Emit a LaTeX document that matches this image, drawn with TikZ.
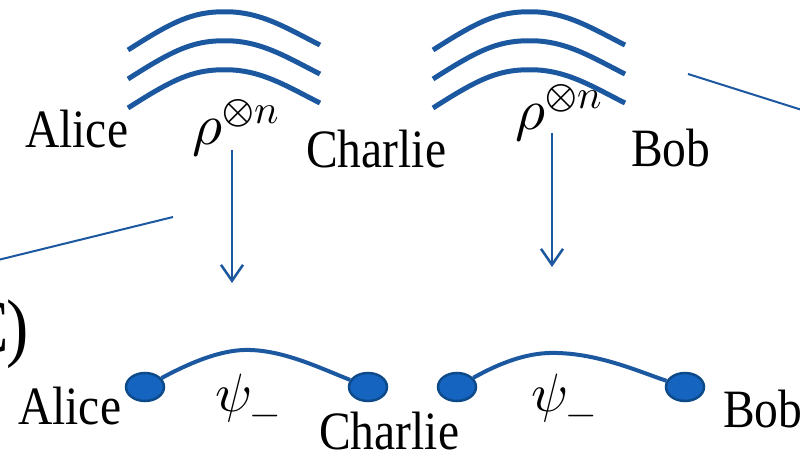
\documentclass[tikz,border=0pt]{standalone}
\usepackage{fontspec}
\usepackage{unicode-math}
\setmainfont[FakeStretch=0.88]{Liberation Serif}
\setmathfont{Latin Modern Math}
\usetikzlibrary{arrows.meta,shapes.geometric}
\definecolor{lineblue}{RGB}{28,88,160}
\definecolor{dotfill}{RGB}{21,101,192}
\definecolor{dotedge}{RGB}{13,74,138}
\begin{document}
\begin{tikzpicture}[x=1pt,y=1pt,
  wave/.style={draw=lineblue, line width=5pt},
  link/.style={draw=lineblue, line width=2pt},
  down/.style={draw=lineblue, line width=2.5pt, -{Straight Barb[length=16pt,width=22pt]}},
  bond/.style={draw=lineblue, line width=4pt},
  qdot/.style={ellipse, fill=dotfill, draw=dotedge, line width=2.5pt, minimum width=38pt, minimum height=28pt, inner sep=0pt},
  lbl/.style={anchor=base west, inner sep=0pt, font=\fontsize{54}{60}\selectfont},
  mlbl/.style={anchor=base west, inner sep=0pt, font=\fontsize{58}{64}\selectfont},
  big/.style={anchor=base east, inner sep=0pt, font=\fontsize{76}{80}\selectfont}]
\useasboundingbox (0,0) rectangle (800,460);
\clip (0,0) rectangle (800,460);
% wave fronts
\foreach \y in {410,381,352}{
  \draw[wave] (128,\y) .. controls (175,\y+30) and (195,\y+40) .. (233,\y+38)
     .. controls (265,\y+36) and (290,\y+20) .. (320,\y+5);
  \draw[wave] (433,\y) .. controls (480,\y+30) and (500,\y+40) .. (538,\y+38)
     .. controls (570,\y+36) and (595,\y+20) .. (625,\y+5);
}
% top labels
\node[lbl] (aliceT) at (25,312) {Alice};
\node[mlbl] (rhoL) at (192,315) {$\rho^{\otimes n}$};
\node[lbl] (charlieT) at (306,292) {Charlie};
\node[mlbl] (rhoR) at (515,330) {$\rho^{\otimes n}$};
\node[lbl] (bobT) at (631,293) {Bob};
% arrows
\coordinate (a1s) at (232,310);
\coordinate (a1e) at (232,177);
\coordinate (a2s) at (552,327);
\coordinate (a2e) at (552,193);
\draw[down] (a1s) -- (a1e);
\draw[down] (a2s) -- (a2e);
% thin connectors leaving the picture
\coordinate (l1a) at (-2,200);
\coordinate (l1b) at (173,243);
\coordinate (l2a) at (688,386);
\coordinate (l2b) at (802,350);
\draw[link] (l1a) -- (l1b);
\draw[link] (l2a) -- (l2b);
% (C) label, partly cut by the frame
\node[big] (clabel) at (29,107) {(C\kern-3pt)};
% bottom: entangled pairs
\node[qdot] (d1) at (145,73) {};
\node[qdot] (d2) at (368,73) {};
\node[qdot] (d3) at (457,73) {};
\node[qdot] (d4) at (685,73) {};
\draw[bond] (d1) .. controls (195,100) and (225,111) .. (250,110)
   .. controls (285,109) and (320,92) .. (d2);
\draw[bond] (d3) .. controls (505,100) and (532,108) .. (557,107)
   .. controls (600,106) and (640,88) .. (d4);
\node[lbl] (psiL) at (215,48) {$\psi_{-}$};
\node[lbl] (psiR) at (531,48) {$\psi_{-}$};
\node[lbl] (aliceB) at (18,35) {Alice};
\node[lbl] (charlieB) at (319,10) {Charlie};
\node[lbl] (bobB) at (723,32) {Bob};
\end{tikzpicture}
\end{document}
